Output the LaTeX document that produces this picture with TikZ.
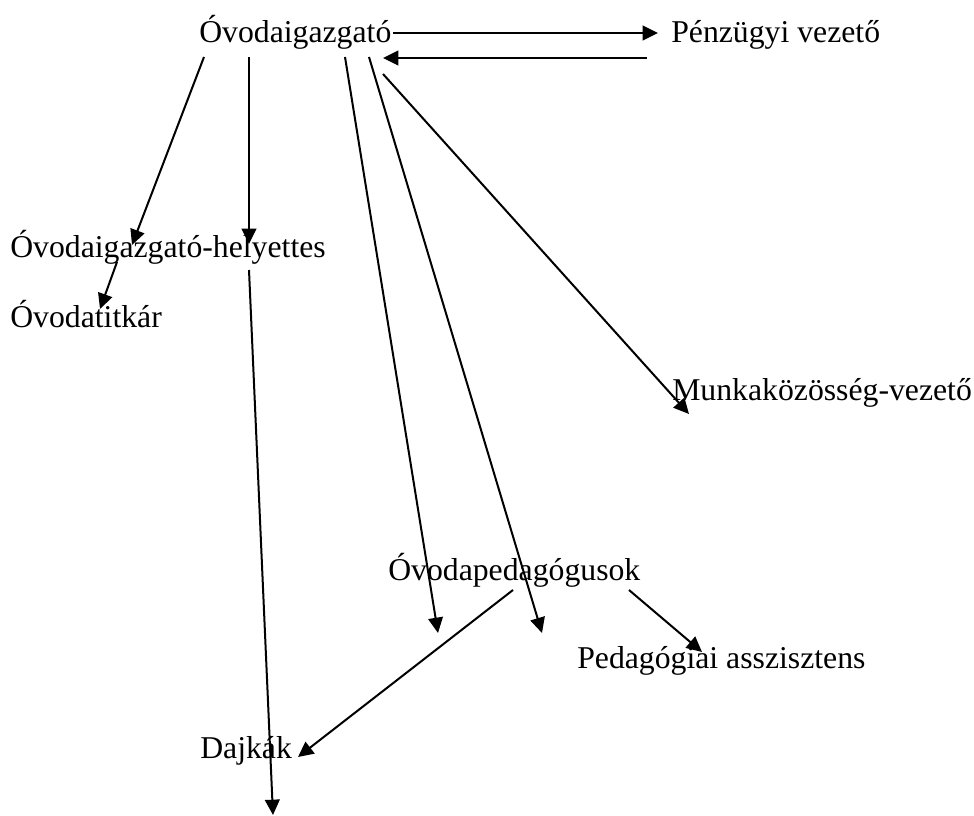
\documentclass[tikz,border=0pt]{standalone}
\usepackage{fontspec}
\setmainfont{Liberation Serif}
\usetikzlibrary{arrows.meta}
\begin{document}
\begin{tikzpicture}[x=0.75pt,y=-0.75pt,
  lbl/.style={anchor=base west,inner sep=0pt,font=\fontsize{23.8}{28}\selectfont},
  arr/.style={line width=1.5pt,-{Triangle[length=11.5pt,width=11pt]}}]
\useasboundingbox (0,0) rectangle (974,816);
\node[lbl] (dir) at (199,43) {Óvodaigazgató};
\node[lbl] (fin) at (671,43) {Pénzügyi vezető};
\node[lbl] (dep) at (10,258) {Óvodaigazgató-helyettes};
\node[lbl] (sec) at (10,328) {Óvodatitkár};
\node[lbl] (mkv) at (672,400) {Munkaközösség-vezető};
\node[lbl] (ped) at (388,580) {Óvodapedagógusok};
\node[lbl] (asz) at (577,668) {Pedagógiai asszisztens};
\node[lbl] (daj) at (200,758) {Dajkák};
% connector end points
\coordinate (d1) at (393,33);  \coordinate (f1) at (658,33);
\coordinate (f2) at (647,58);  \coordinate (d2) at (383,58);
\coordinate (d3) at (204,57);  \coordinate (h1) at (132,245);
\coordinate (d4) at (249,57);  \coordinate (h2) at (249,244);
\coordinate (h3) at (117,262); \coordinate (s1) at (100,309);
\coordinate (h4) at (249,270); \coordinate (b1) at (273,815);
\coordinate (d5) at (345,57);  \coordinate (p1) at (438,633);
\coordinate (d6) at (369,57);  \coordinate (p2) at (542,633);
\coordinate (d7) at (383,74);  \coordinate (m1) at (689,414);
\coordinate (p3) at (513,590); \coordinate (j1) at (298,757);
\coordinate (p4) at (629,590); \coordinate (a1) at (702,652);
\draw[arr] (d1) -- (f1);
\draw[arr] (f2) -- (d2);
\draw[arr] (d3) -- (h1);
\draw[arr] (d4) -- (h2);
\draw[arr] (h3) -- (s1);
\draw[arr] (h4) -- (b1);
\draw[arr] (d5) -- (p1);
\draw[arr] (d6) -- (p2);
\draw[arr] (d7) -- (m1);
\draw[arr] (p3) -- (j1);
\draw[arr] (p4) -- (a1);
\end{tikzpicture}
\end{document}
